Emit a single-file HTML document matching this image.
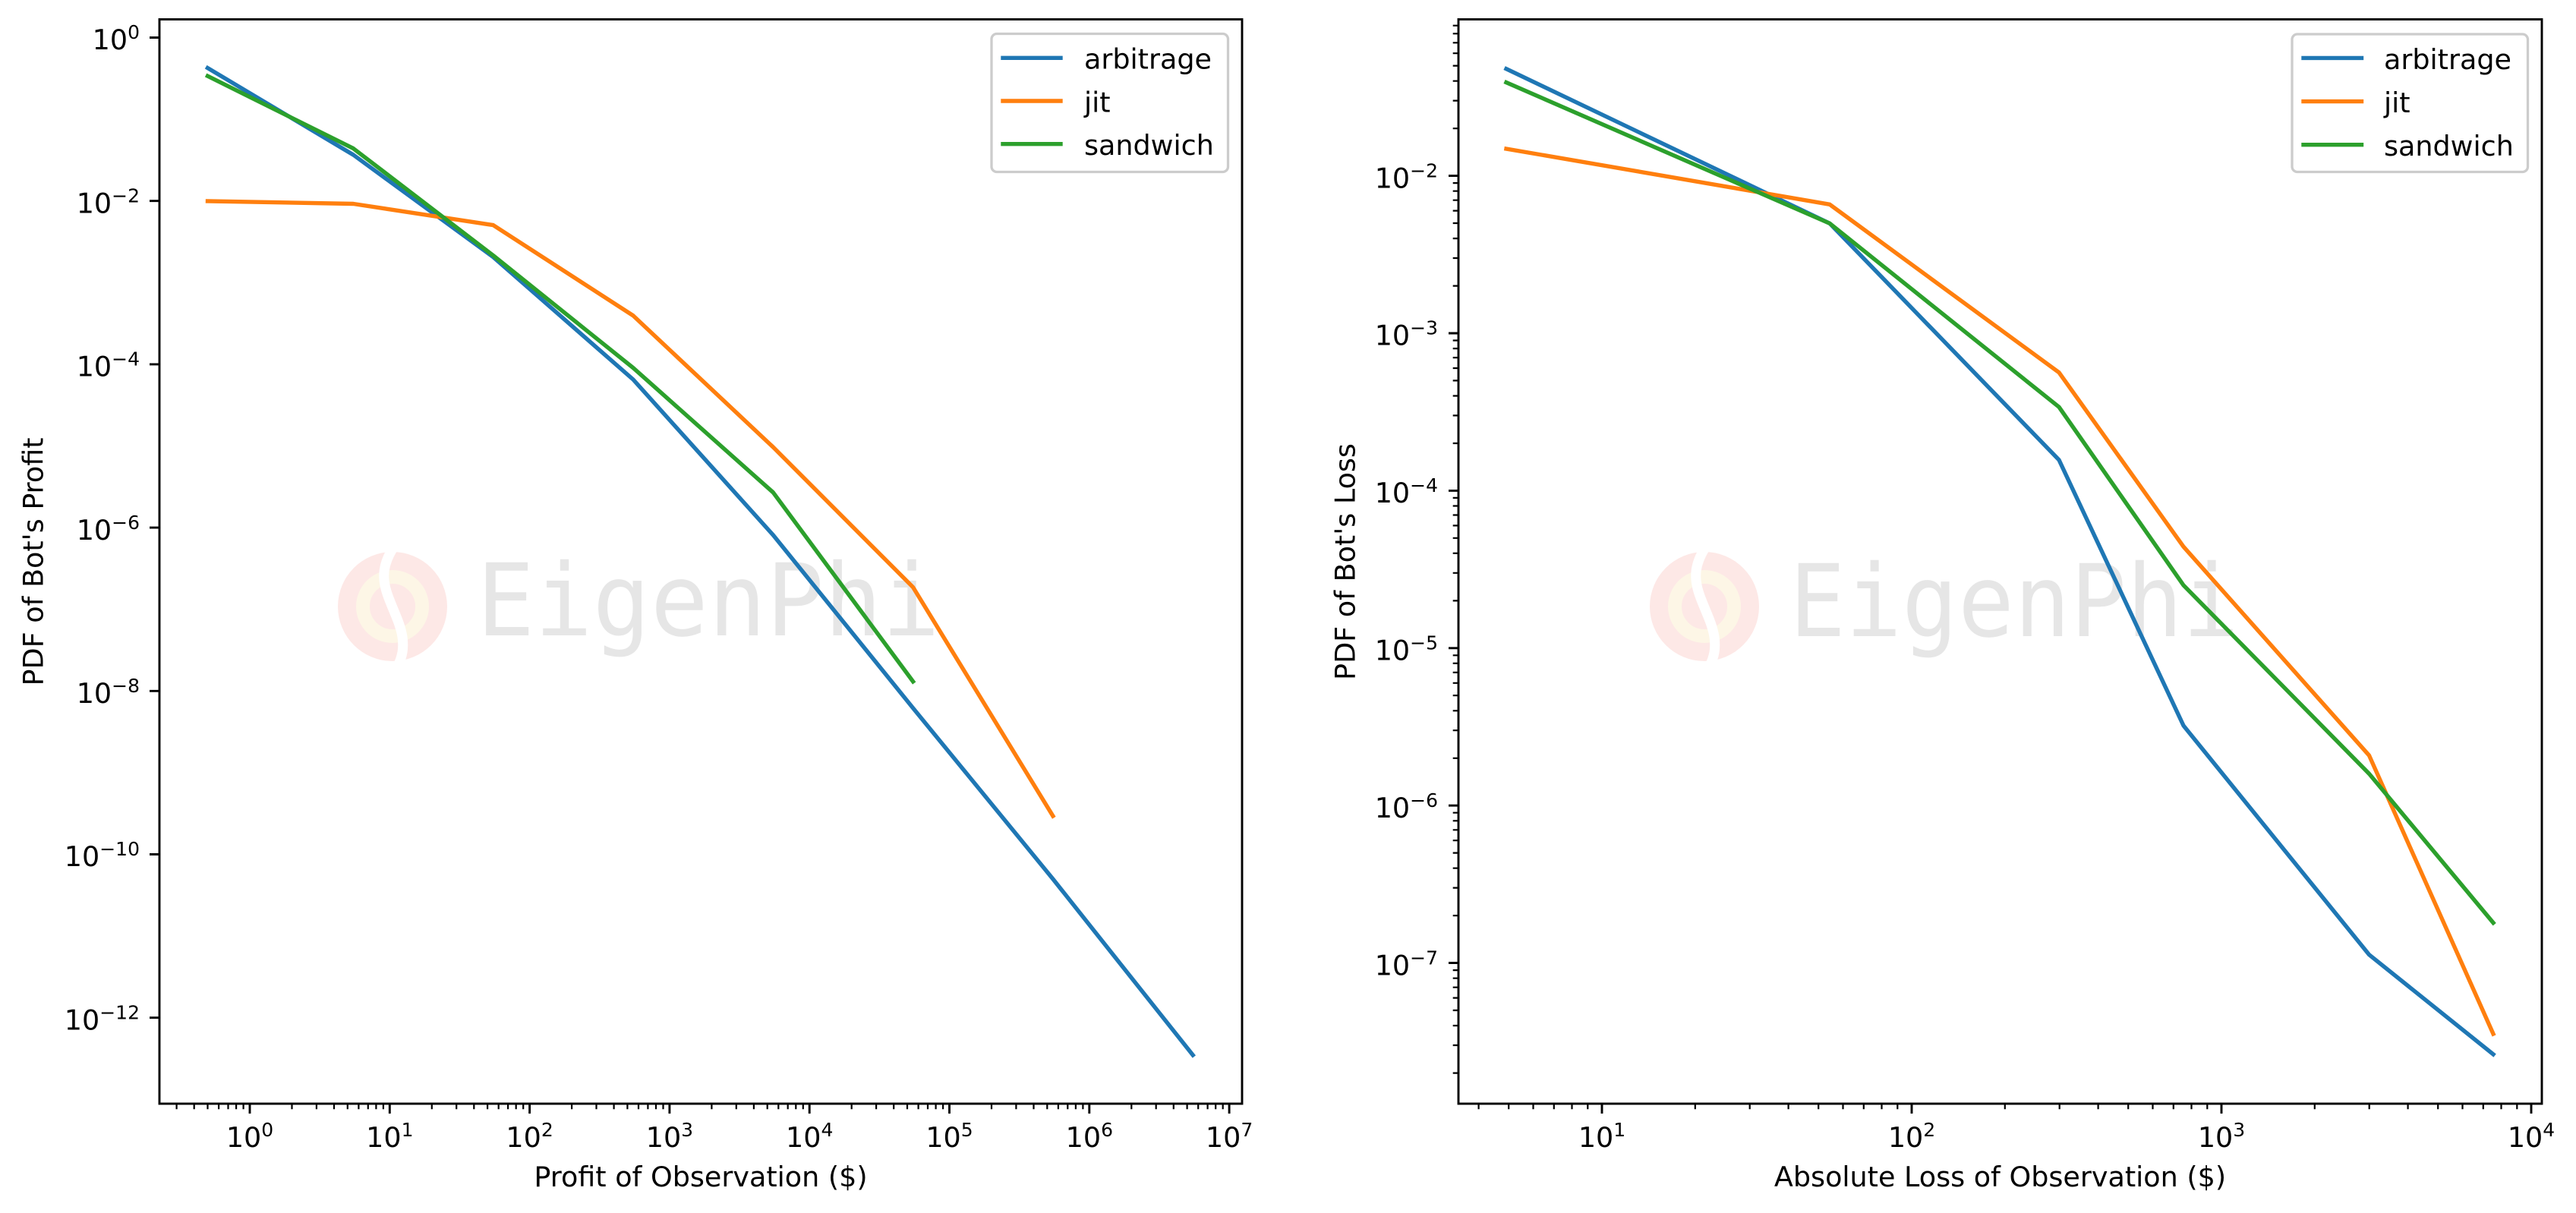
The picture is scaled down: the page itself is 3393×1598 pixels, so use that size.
<!DOCTYPE html>
<html>
<head>
<meta charset="utf-8">
<style>
  html,body{margin:0;padding:0;background:#fff;}
  svg{display:block;}
  text{font-family:"DejaVu Sans","Liberation Sans",sans-serif;fill:#000;}
  .wm{font-family:"DejaVu Sans Mono","Liberation Mono",monospace;fill:#e6e6e6;}
</style>
</head>
<body>
<svg width="3393" height="1598" viewBox="0 0 3393 1598" xmlns="http://www.w3.org/2000/svg">
  <rect x="0" y="0" width="3393" height="1598" fill="#fff"/>

  <!-- ===== Watermarks ===== -->
  <g transform="translate(517,799)">
    <circle cx="0" cy="0" r="72" fill="#fde8e6"/>
    <circle cx="0" cy="0" r="39" fill="none" stroke="#fdf6e6" stroke-width="18"/>
    <path d="M0,-76 C-12,-56 -14,-40 -8,-20 C-2,0 10,20 13,40 C15,55 13,66 7,78" fill="none" stroke="#fff" stroke-width="13"/>
  </g>
  <text class="wm" x="628" y="837" font-size="132" textLength="610" lengthAdjust="spacingAndGlyphs">EigenPhi</text>

  <g transform="translate(2245,799)">
    <circle cx="0" cy="0" r="72" fill="#fde8e6"/>
    <circle cx="0" cy="0" r="39" fill="none" stroke="#fdf6e6" stroke-width="18"/>
    <path d="M0,-76 C-12,-56 -14,-40 -8,-20 C-2,0 10,20 13,40 C15,55 13,66 7,78" fill="none" stroke="#fff" stroke-width="13"/>
  </g>
  <text class="wm" x="2357" y="838" font-size="132" textLength="592" lengthAdjust="spacingAndGlyphs">EigenPhi</text>

  <!-- ===== LEFT AXES ===== -->
  <g fill="none" stroke-width="5.4" stroke-linejoin="round" stroke-linecap="square">
    <polyline stroke="#1f77b4" points="273.5,89.6 465.4,204 649.7,338.7 834,500 1018.3,704.8 1202.6,932.8 1386.9,1158 1571.2,1390"/>
    <polyline stroke="#ff7f0e" points="273.5,265 465.4,268.5 649.7,296.6 834,415.8 1018.3,589 1202.6,773.6 1386.9,1075"/>
    <polyline stroke="#2ca02c" points="273.5,100.2 465.4,195.6 649.7,336.6 834,484.6 1018.3,648.7 1202.6,897.8"/>
  </g>

  <rect x="210" y="25.5" width="1426" height="1428.5" fill="none" stroke="#000" stroke-width="2.9"/>

  <path stroke="#000" stroke-width="2.9" d="M329 1454v13M513.3 1454v13M697.6 1454v13M881.9 1454v13M1066.2 1454v13M1250.5 1454v13M1434.8 1454v13M1619.1 1454v13"/>
  <path stroke="#000" stroke-width="2.2" d="
    M232.6 1454v7.3M255.7 1454v7.3M273.5 1454v7.3M288.1 1454v7.3M300.5 1454v7.3M311.1 1454v7.3M320.6 1454v7.3
    M384.5 1454v7.3M416.9 1454v7.3M440 1454v7.3M457.8 1454v7.3M472.4 1454v7.3M484.8 1454v7.3M495.4 1454v7.3M504.9 1454v7.3
    M568.8 1454v7.3M601.2 1454v7.3M624.3 1454v7.3M642.1 1454v7.3M656.7 1454v7.3M669.1 1454v7.3M679.7 1454v7.3M689.2 1454v7.3
    M753.1 1454v7.3M785.5 1454v7.3M808.6 1454v7.3M826.4 1454v7.3M841 1454v7.3M853.4 1454v7.3M864 1454v7.3M873.5 1454v7.3
    M937.4 1454v7.3M969.8 1454v7.3M992.9 1454v7.3M1010.7 1454v7.3M1025.3 1454v7.3M1037.7 1454v7.3M1048.3 1454v7.3M1057.8 1454v7.3
    M1121.7 1454v7.3M1154.1 1454v7.3M1177.2 1454v7.3M1195 1454v7.3M1209.6 1454v7.3M1222 1454v7.3M1232.6 1454v7.3M1242.1 1454v7.3
    M1306 1454v7.3M1338.4 1454v7.3M1361.5 1454v7.3M1379.3 1454v7.3M1393.9 1454v7.3M1406.3 1454v7.3M1416.9 1454v7.3M1426.4 1454v7.3
    M1490.3 1454v7.3M1522.7 1454v7.3M1545.8 1454v7.3M1563.6 1454v7.3M1578.2 1454v7.3M1590.6 1454v7.3M1601.2 1454v7.3M1610.7 1454v7.3"/>
  <path stroke="#000" stroke-width="2.9" d="M197 49.5h13M197 264.7h13M197 479.9h13M197 695.1h13M197 910.3h13M197 1125.5h13M197 1340.7h13"/>

  <g font-size="36.5" text-anchor="middle">
    <text x="329" y="1511">10<tspan font-size="25" dy="-14">0</tspan></text>
    <text x="513.3" y="1511">10<tspan font-size="25" dy="-14">1</tspan></text>
    <text x="697.6" y="1511">10<tspan font-size="25" dy="-14">2</tspan></text>
    <text x="881.9" y="1511">10<tspan font-size="25" dy="-14">3</tspan></text>
    <text x="1066.2" y="1511">10<tspan font-size="25" dy="-14">4</tspan></text>
    <text x="1250.5" y="1511">10<tspan font-size="25" dy="-14">5</tspan></text>
    <text x="1434.8" y="1511">10<tspan font-size="25" dy="-14">6</tspan></text>
    <text x="1619.1" y="1511">10<tspan font-size="25" dy="-14">7</tspan></text>
  </g>
  <g font-size="36.5" text-anchor="end">
    <text x="184" y="65.2">10<tspan font-size="25" dy="-14">0</tspan></text>
    <text x="184" y="280.4">10<tspan font-size="25" dy="-14">−2</tspan></text>
    <text x="184" y="495.6">10<tspan font-size="25" dy="-14">−4</tspan></text>
    <text x="184" y="710.8">10<tspan font-size="25" dy="-14">−6</tspan></text>
    <text x="184" y="926">10<tspan font-size="25" dy="-14">−8</tspan></text>
    <text x="184" y="1141.2">10<tspan font-size="25" dy="-14">−10</tspan></text>
    <text x="184" y="1356.4">10<tspan font-size="25" dy="-14">−12</tspan></text>
  </g>

  <text x="923" y="1563" font-size="36.5" text-anchor="middle">Profit of Observation ($)</text>
  <text transform="translate(56.5,740) rotate(-90)" font-size="36.5" text-anchor="middle">PDF of Bot's Profit</text>

  <rect x="1306" y="44.5" width="311.5" height="182" rx="7" ry="7" fill="#fff" fill-opacity="0.8" stroke="#cccccc" stroke-width="3.3"/>
  <g stroke-width="5.4" stroke-linecap="square">
    <line x1="1321" y1="76.3" x2="1397" y2="76.3" stroke="#1f77b4"/>
    <line x1="1321" y1="133" x2="1397" y2="133" stroke="#ff7f0e"/>
    <line x1="1321" y1="189.7" x2="1397" y2="189.7" stroke="#2ca02c"/>
  </g>
  <g font-size="36.5">
    <text x="1428" y="90.7">arbitrage</text>
    <text x="1428" y="147.4">jit</text>
    <text x="1428" y="204.1">sandwich</text>
  </g>

  <!-- ===== RIGHT AXES ===== -->
  <g fill="none" stroke-width="5.4" stroke-linejoin="round" stroke-linecap="square">
    <polyline stroke="#1f77b4" points="1984,90.7 2410,294.3 2712,605.9 2876,955.9 3120.5,1257.7 3284,1388.9"/>
    <polyline stroke="#ff7f0e" points="1984,196 2410,269.3 2712,490.7 2876,720.2 3120.5,995.2 3284,1362"/>
    <polyline stroke="#2ca02c" points="1984,108.6 2410,294.3 2712,536.2 2876,771 3120.5,1019.3 3284,1215.7"/>
  </g>

  <rect x="1921" y="25.5" width="1427" height="1428.5" fill="none" stroke="#000" stroke-width="2.9"/>

  <path stroke="#000" stroke-width="2.9" d="M2110 1454v13M2518 1454v13M2926 1454v13M3334 1454v13"/>
  <path stroke="#000" stroke-width="2.2" d="
    M1947.6 1454v7.3M1987.2 1454v7.3M2019.5 1454v7.3M2046.8 1454v7.3M2070.5 1454v7.3M2091.3 1454v7.3
    M2232.8 1454v7.3M2304.7 1454v7.3M2355.6 1454v7.3M2395.2 1454v7.3M2427.5 1454v7.3M2454.8 1454v7.3M2478.5 1454v7.3M2499.3 1454v7.3
    M2640.8 1454v7.3M2712.7 1454v7.3M2763.6 1454v7.3M2803.2 1454v7.3M2835.5 1454v7.3M2862.8 1454v7.3M2886.5 1454v7.3M2907.3 1454v7.3
    M3048.8 1454v7.3M3120.7 1454v7.3M3171.6 1454v7.3M3211.2 1454v7.3M3243.5 1454v7.3M3270.8 1454v7.3M3294.5 1454v7.3M3315.3 1454v7.3"/>
  <path stroke="#000" stroke-width="2.9" d="M1908 231.6h13M1908 439h13M1908 646.4h13M1908 853.8h13M1908 1061.2h13M1908 1268.6h13"/>
  <path stroke="#000" stroke-width="2.2" d="
    M1913.7 169.2h7.3M1913.7 132.6h7.3M1913.7 106.7h7.3M1913.7 86.6h7.3M1913.7 70.2h7.3M1913.7 56.3h7.3M1913.7 44.3h7.3M1913.7 33.7h7.3
    M1913.7 376.6h7.3M1913.7 340h7.3M1913.7 314.1h7.3M1913.7 294h7.3M1913.7 277.6h7.3M1913.7 263.7h7.3M1913.7 251.7h7.3M1913.7 241.1h7.3
    M1913.7 584h7.3M1913.7 547.4h7.3M1913.7 521.5h7.3M1913.7 501.4h7.3M1913.7 485h7.3M1913.7 471.1h7.3M1913.7 459.1h7.3M1913.7 448.5h7.3
    M1913.7 791.4h7.3M1913.7 754.8h7.3M1913.7 728.9h7.3M1913.7 708.8h7.3M1913.7 692.4h7.3M1913.7 678.5h7.3M1913.7 666.5h7.3M1913.7 655.9h7.3
    M1913.7 998.8h7.3M1913.7 962.2h7.3M1913.7 936.3h7.3M1913.7 916.2h7.3M1913.7 899.8h7.3M1913.7 885.9h7.3M1913.7 873.9h7.3M1913.7 863.3h7.3
    M1913.7 1206.2h7.3M1913.7 1169.6h7.3M1913.7 1143.7h7.3M1913.7 1123.6h7.3M1913.7 1107.2h7.3M1913.7 1093.3h7.3M1913.7 1081.3h7.3M1913.7 1070.7h7.3
    M1913.7 1413.6h7.3M1913.7 1377h7.3M1913.7 1351.1h7.3M1913.7 1331h7.3M1913.7 1314.6h7.3M1913.7 1300.7h7.3M1913.7 1288.7h7.3M1913.7 1278.1h7.3"/>

  <g font-size="36.5" text-anchor="middle">
    <text x="2110" y="1511">10<tspan font-size="25" dy="-14">1</tspan></text>
    <text x="2518" y="1511">10<tspan font-size="25" dy="-14">2</tspan></text>
    <text x="2926" y="1511">10<tspan font-size="25" dy="-14">3</tspan></text>
    <text x="3334" y="1511">10<tspan font-size="25" dy="-14">4</tspan></text>
  </g>
  <g font-size="36.5" text-anchor="end">
    <text x="1894" y="247.3">10<tspan font-size="25" dy="-14">−2</tspan></text>
    <text x="1894" y="454.7">10<tspan font-size="25" dy="-14">−3</tspan></text>
    <text x="1894" y="662.1">10<tspan font-size="25" dy="-14">−4</tspan></text>
    <text x="1894" y="869.5">10<tspan font-size="25" dy="-14">−5</tspan></text>
    <text x="1894" y="1076.9">10<tspan font-size="25" dy="-14">−6</tspan></text>
    <text x="1894" y="1284.3">10<tspan font-size="25" dy="-14">−7</tspan></text>
  </g>

  <text x="2634.5" y="1563" font-size="36.5" text-anchor="middle">Absolute Loss of Observation ($)</text>
  <text transform="translate(1784.5,740) rotate(-90)" font-size="36.5" text-anchor="middle">PDF of Bot's Loss</text>

  <rect x="3019" y="45" width="310.5" height="181.5" rx="7" ry="7" fill="#fff" fill-opacity="0.8" stroke="#cccccc" stroke-width="3.3"/>
  <g stroke-width="5.4" stroke-linecap="square">
    <line x1="3034" y1="76.4" x2="3110.5" y2="76.4" stroke="#1f77b4"/>
    <line x1="3034" y1="133.6" x2="3110.5" y2="133.6" stroke="#ff7f0e"/>
    <line x1="3034" y1="190.7" x2="3110.5" y2="190.7" stroke="#2ca02c"/>
  </g>
  <g font-size="36.5">
    <text x="3140" y="90.8">arbitrage</text>
    <text x="3140" y="148">jit</text>
    <text x="3140" y="205.1">sandwich</text>
  </g>
</svg>
</body>
</html>
